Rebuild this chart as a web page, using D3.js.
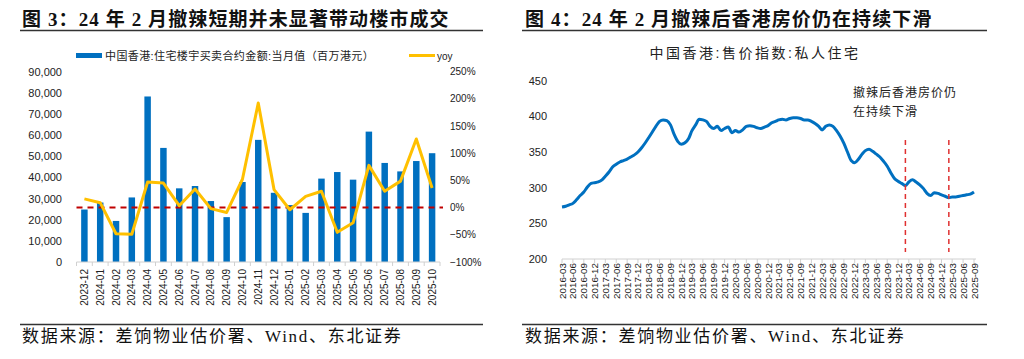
<!DOCTYPE html>
<html><head><meta charset="utf-8">
<script src="https://cdn.jsdelivr.net/npm/d3@7"></script>
<style>
body{margin:0;background:#fff;}
svg{display:block;}
text{font-family:"Liberation Sans","Noto Sans CJK SC",sans-serif;}
.cjk{font-family:"Liberation Serif","Noto Sans CJK SC",serif;}
</style></head>
<body><svg id="c" width="1024" height="359"></svg>
<script>
// ---- Left chart data ----
const months3 = ["2023-12","2024-01","2024-02","2024-03","2024-04","2024-05","2024-06","2024-07","2024-08","2024-09","2024-10","2024-11","2024-12","2025-01","2025-02","2025-03","2025-04","2025-05","2025-06","2025-07","2025-08","2025-09","2025-10"];
const amount3 = [24800,28100,19400,30500,78200,53900,34800,35900,28800,21200,37800,57700,32700,26900,23200,39400,42500,38900,61600,46800,42800,47700,51400];
const yoy3 = [0.16,0.09,-0.48,-0.49,0.47,0.45,0.035,0.34,-0.02,-0.09,0.52,1.92,0.33,-0.04,0.205,0.30,-0.455,-0.28,0.775,0.30,0.486,1.26,0.36];
const leftTicks3 = [0,10000,20000,30000,40000,50000,60000,70000,80000,90000];
const rightTicks3 = [-1,-0.5,0,0.5,1,1.5,2,2.5];

// ---- Right chart data ----
const startMonth4 = "2016-03";
const index4 = [
273,274,276,278,283,289,294,301,306,307,
308,311,316,322,329,333,336,338,340,343,346,350,
356,363,370,378,386,393,395,394,388,375,365,361,
363,369,380,388,396,395,393,386,383,386,380,383,
385,377,380,378,381,386,387,386,384,383,385,387,
391,393,395,396,395,397,398,398,397,395,395,393,
390,386,381,386,388,386,380,372,362,350,338,335,
340,347,352,354,351,347,343,337,330,321,313,309,
306,303,308,311,308,304,299,292,289,293,292,290,
288,286,287,287,288,289,290,291,294];
const markDates4 = ["2024-02","2025-02"];
const yTicks4 = [200,250,300,350,400,450];

const svg = d3.select("#c");
const parse = d3.timeParse("%Y-%m");
const fmtM = d3.timeFormat("%Y-%m");

// ---------- Headers / footers ----------
function header(x0, x1, title, tx){
  svg.append("text").attr("class","cjk").attr("x",tx).attr("y",26)
    .attr("font-size",19).attr("font-weight","bold").attr("letter-spacing",1.1)
    .attr("fill","#111").text(title);
  svg.append("line").attr("x1",x0).attr("x2",x1).attr("y1",30.5).attr("y2",30.5)
    .attr("stroke","#333").attr("stroke-width",1.3);
  svg.append("line").attr("x1",x0).attr("x2",x1).attr("y1",324.5).attr("y2",324.5)
    .attr("stroke","#333").attr("stroke-width",1.3);
  svg.append("text").attr("class","cjk").attr("x",tx).attr("y",342)
    .attr("font-size",17).attr("letter-spacing",1.7).attr("fill","#111")
    .text("数据来源：差饷物业估价署、Wind、东北证券");
}
header(20,483,"图 3：24 年 2 月撤辣短期并未显著带动楼市成交",22);
header(522,987,"图 4：24 年 2 月撤辣后香港房价仍在持续下滑",525);

// ---------- Left chart ----------
const x3 = d3.scaleBand().domain(months3).range([76.5,440]).paddingInner(0.59).paddingOuter(0.295);
const yL = d3.scaleLinear().domain([0,90000]).range([262,71.5]);
const yR = d3.scaleLinear().domain([-1,2.5]).range([262,71.5]);

const g3 = svg.append("g");
g3.selectAll("rect.bar").data(amount3).join("rect").attr("class","bar")
  .attr("x",(d,i)=>x3(months3[i])).attr("width",x3.bandwidth())
  .attr("y",d=>yL(d)).attr("height",d=>yL(0)-yL(d)).attr("fill","#0070C0");

// left axis labels
const axL = g3.append("g").attr("transform","translate(68,0)")
  .call(d3.axisLeft(yL).tickValues(leftTicks3).tickSize(0).tickPadding(6).tickFormat(d3.format(",")));
axL.select(".domain").remove();
axL.selectAll("text").attr("font-size",11).attr("fill","#222").attr("font-family","Liberation Sans");

const axR = g3.append("g").attr("transform","translate(450,0)")
  .call(d3.axisRight(yR).tickValues(rightTicks3).tickSize(0).tickPadding(0).tickFormat(d3.format(".0%")));
axR.select(".domain").remove();
axR.selectAll("text").attr("font-size",10).attr("fill","#222").attr("font-family","Liberation Sans");

// bottom axis
const bandEdges = months3.map(m=>x3(m)-x3.step()*x3.paddingInner()/2).concat([440]);
const axB = g3.append("g").attr("transform","translate(0,262)");
axB.append("line").attr("x1",76.5).attr("x2",440).attr("stroke","#d0d0d0");
axB.selectAll("line.tk").data(bandEdges).join("line").attr("class","tk")
  .attr("x1",d=>d).attr("x2",d=>d).attr("y1",0).attr("y2",4).attr("stroke","#d0d0d0");
axB.selectAll("text").data(months3).join("text")
  .attr("transform",d=>`translate(${x3(d)+x3.bandwidth()/2+3.5},7) rotate(-90)`)
  .attr("text-anchor","end").attr("font-size",10).attr("fill","#222").text(d=>d);

// zero dashed
g3.append("line").attr("x1",76.5).attr("x2",443).attr("y1",yR(0)).attr("y2",yR(0))
  .attr("stroke","#C00000").attr("stroke-width",2).attr("stroke-dasharray","6,5");

// yoy line
g3.append("path").datum(yoy3)
  .attr("d",d3.line().x((d,i)=>x3(months3[i])+x3.bandwidth()/2).y(d=>yR(d)))
  .attr("fill","none").attr("stroke","#FFC000").attr("stroke-width",3).attr("stroke-linejoin","round");

// legend
g3.append("rect").attr("x",76).attr("y",53).attr("width",26).attr("height",5).attr("fill","#0070C0");
g3.append("text").attr("x",105).attr("y",59.5).attr("font-size",11).attr("letter-spacing",0.4)
  .attr("font-family","Noto Sans CJK SC").attr("fill","#222")
  .text("中国香港:住宅楼宇买卖合约金额:当月值（百万港元）");
g3.append("rect").attr("x",409).attr("y",54).attr("width",26).attr("height",3).attr("fill","#FFC000");
g3.append("text").attr("x",437).attr("y",59.5).attr("font-size",10).attr("fill","#222").text("yoy");

// ---------- Right chart ----------
const dates4 = d3.timeMonth.range(parse(startMonth4), d3.timeMonth.offset(parse(startMonth4), index4.length));
const x4 = d3.scaleTime().domain([dates4[0], dates4[dates4.length-1]]).range([562,974]);
const y4 = d3.scaleLinear().domain([200,450]).range([259,80.7]);
const g4 = svg.append("g");

g4.append("text").attr("x",755).attr("y",58).attr("text-anchor","middle")
  .attr("font-family","Noto Sans CJK SC").attr("font-size",14).attr("letter-spacing",2.5)
  .attr("fill","#222").text("中国香港:售价指数:私人住宅");

const ay4 = g4.append("g").attr("transform","translate(547,0)")
  .call(d3.axisLeft(y4).tickValues(yTicks4).tickSize(0).tickPadding(0));
ay4.select(".domain").remove();
ay4.selectAll("text").attr("font-size",11).attr("fill","#222").attr("font-family","Liberation Sans");

const qTicks = dates4.filter(d=>d.getMonth()%3===2);
const ax4 = g4.append("g").attr("transform","translate(0,259)");
ax4.append("line").attr("x1",562).attr("x2",976).attr("stroke","#d0d0d0");
ax4.selectAll("line.tk").data(qTicks).join("line").attr("class","tk")
  .attr("x1",d=>x4(d)).attr("x2",d=>x4(d)).attr("y1",0).attr("y2",4).attr("stroke","#d0d0d0");
ax4.selectAll("text").data(qTicks).join("text")
  .attr("transform",d=>`translate(${x4(d)+3.5},4) rotate(-90)`)
  .attr("text-anchor","end").attr("font-size",9.8).attr("fill","#222").text(d=>fmtM(d));

g4.append("path").datum(index4)
  .attr("d",d3.line().x((d,i)=>x4(dates4[i])).y(d=>y4(d)).curve(d3.curveMonotoneX))
  .attr("fill","none").attr("stroke","#0070C0").attr("stroke-width",3).attr("stroke-linejoin","round");

g4.selectAll("line.mark").data(markDates4).join("line").attr("class","mark")
  .attr("x1",d=>x4(parse(d))).attr("x2",d=>x4(parse(d))).attr("y1",140).attr("y2",252)
  .attr("stroke","#E03030").attr("stroke-width",1.5).attr("stroke-dasharray","5,4");

const ann = g4.append("text").attr("font-family","Noto Sans CJK SC").attr("font-size",12)
  .attr("letter-spacing",1).attr("fill","#222");
ann.append("tspan").attr("x",853).attr("y",97).text("撤辣后香港房价仍");
ann.append("tspan").attr("x",853).attr("y",116).text("在持续下滑");
</script></body></html>
